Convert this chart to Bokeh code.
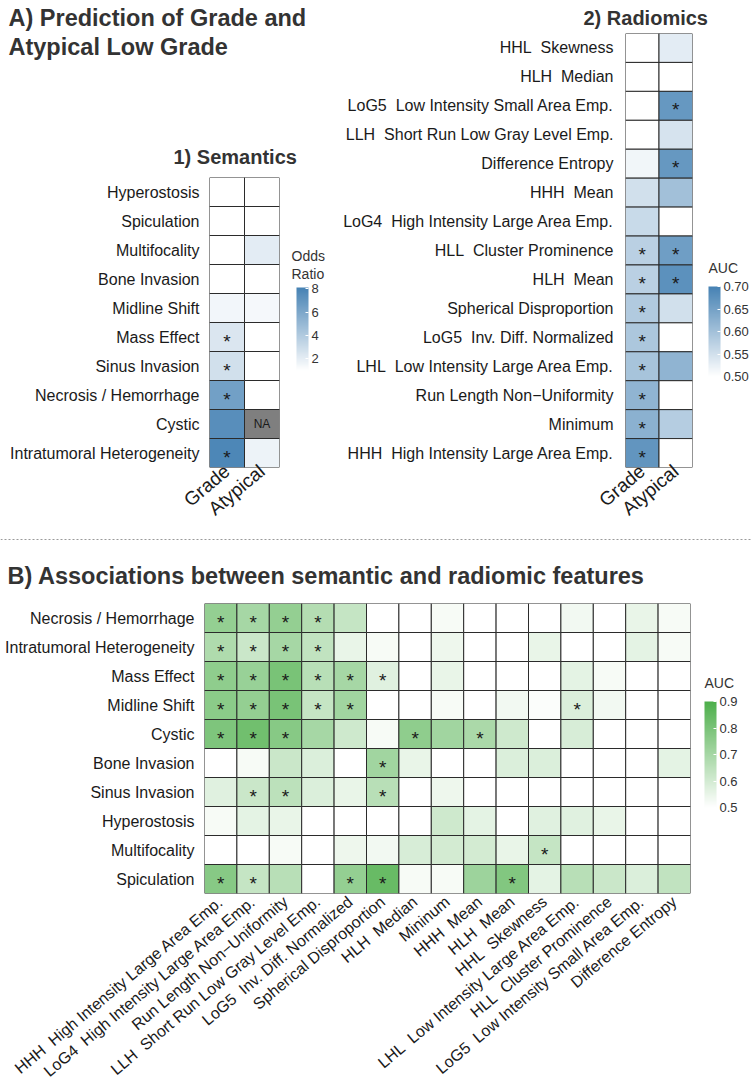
import math
from bokeh.plotting import figure
from bokeh.models import (ColumnDataSource, LinearColorMapper, ColorBar, FixedTicker,
                          PrintfTickFormatter, Title, Span, FactorRange, Range1d)
from bokeh.layouts import column, row
from bokeh.embed import file_html
from bokeh.resources import INLINE
from bokeh.core.properties import value

FONT = "Liberation Sans"
TXT = "#1a1a1a"
HEAD = "#333333"
SP2 = "\u00a0 "  # double space as in the original labels

# ---------------- data ----------------
targets = ["Grade", "Atypical"]

sem_features = ["Hyperostosis", "Spiculation", "Multifocality", "Bone Invasion",
                "Midline Shift", "Mass Effect", "Sinus Invasion",
                "Necrosis / Hemorrhage", "Cystic", "Intratumoral Heterogeneity"]
sem_or_grade = [1.0, 1.0, 1.0, 1.0, 1.5, 2.4, 2.8, 6.4, 7.4, 7.8]
sem_or_atypical = [1.0, 1.0, 2.1, 1.0, 1.4, 1.0, 1.0, 1.0, float("nan"), 1.7]
sem_sig_grade = [0, 0, 0, 0, 0, 1, 1, 1, 0, 1]
sem_sig_atypical = [0, 0, 0, 0, 0, 0, 0, 0, 0, 0]

rad_features = ["HHL" + SP2 + "Skewness", "HLH" + SP2 + "Median",
                "LoG5" + SP2 + "Low Intensity Small Area Emp.",
                "LLH" + SP2 + "Short Run Low Gray Level Emp.", "Difference Entropy",
                "HHH" + SP2 + "Mean", "LoG4" + SP2 + "High Intensity Large Area Emp.",
                "HLL" + SP2 + "Cluster Prominence", "HLH" + SP2 + "Mean",
                "Spherical Disproportion", "LoG5" + SP2 + "Inv. Diff. Normalized",
                "LHL" + SP2 + "Low Intensity Large Area Emp.",
                "Run Length Non\u2212Uniformity", "Minimum",
                "HHH" + SP2 + "High Intensity Large Area Emp."]
rad_auc_grade = [0.50, 0.50, 0.50, 0.50, 0.515, 0.55, 0.56, 0.575, 0.575, 0.585,
                 0.59, 0.595, 0.62, 0.625, 0.67]
rad_auc_atypical = [0.53, 0.50, 0.665, 0.545, 0.665, 0.60, 0.50, 0.655, 0.675, 0.55,
                    0.50, 0.62, 0.50, 0.58, 0.50]
rad_sig_grade = [0, 0, 0, 0, 0, 0, 0, 1, 1, 1, 1, 1, 1, 1, 1]
rad_sig_atypical = [0, 0, 1, 0, 1, 0, 0, 1, 1, 0, 0, 0, 0, 0, 0]

assoc_rows = ["Necrosis / Hemorrhage", "Intratumoral Heterogeneity", "Mass Effect",
              "Midline Shift", "Cystic", "Bone Invasion", "Sinus Invasion",
              "Hyperostosis", "Multifocality", "Spiculation"]
assoc_cols = ["HHH" + SP2 + "High Intensity Large Area Emp.",
              "LoG4" + SP2 + "High Intensity Large Area Emp.",
              "Run Length Non\u2212Uniformity",
              "LLH" + SP2 + "Short Run Low Gray Level Emp.",
              "LoG5" + SP2 + "Inv. Diff. Normalized", "Spherical Disproportion",
              "HLH" + SP2 + "Median", "Mininum", "HHH" + SP2 + "Mean",
              "HLH" + SP2 + "Mean", "HHL" + SP2 + "Skewness",
              "LHL" + SP2 + "Low Intensity Large Area Emp.",
              "HLL" + SP2 + "Cluster Prominence",
              "LoG5" + SP2 + "Low Intensity Small Area Emp.", "Difference Entropy"]
assoc_auc = [
    [0.74, 0.70, 0.74, 0.67, 0.63, 0.50, 0.50, 0.52, 0.50, 0.50, 0.50, 0.53, 0.50, 0.55, 0.52],
    [0.68, 0.62, 0.70, 0.64, 0.55, 0.52, 0.50, 0.54, 0.50, 0.50, 0.55, 0.50, 0.50, 0.56, 0.52],
    [0.75, 0.73, 0.80, 0.66, 0.70, 0.57, 0.50, 0.55, 0.50, 0.50, 0.50, 0.56, 0.52, 0.50, 0.50],
    [0.76, 0.74, 0.80, 0.63, 0.71, 0.50, 0.50, 0.52, 0.50, 0.53, 0.51, 0.58, 0.53, 0.50, 0.50],
    [0.79, 0.82, 0.77, 0.70, 0.61, 0.52, 0.75, 0.71, 0.69, 0.61, 0.50, 0.59, 0.50, 0.50, 0.50],
    [0.50, 0.52, 0.62, 0.58, 0.50, 0.71, 0.55, 0.50, 0.50, 0.58, 0.58, 0.50, 0.50, 0.50, 0.56],
    [0.57, 0.62, 0.65, 0.58, 0.55, 0.66, 0.50, 0.54, 0.50, 0.50, 0.50, 0.50, 0.50, 0.50, 0.50],
    [0.52, 0.56, 0.55, 0.50, 0.50, 0.50, 0.50, 0.61, 0.56, 0.50, 0.57, 0.57, 0.55, 0.50, 0.50],
    [0.50, 0.50, 0.52, 0.50, 0.54, 0.53, 0.59, 0.60, 0.60, 0.55, 0.63, 0.50, 0.50, 0.50, 0.50],
    [0.77, 0.63, 0.66, 0.50, 0.74, 0.84, 0.52, 0.52, 0.72, 0.78, 0.56, 0.66, 0.62, 0.58, 0.64],
]
assoc_sig = [
    [1, 1, 1, 1, 0, 0, 0, 0, 0, 0, 0, 0, 0, 0, 0],
    [1, 1, 1, 1, 0, 0, 0, 0, 0, 0, 0, 0, 0, 0, 0],
    [1, 1, 1, 1, 1, 1, 0, 0, 0, 0, 0, 0, 0, 0, 0],
    [1, 1, 1, 1, 1, 0, 0, 0, 0, 0, 0, 1, 0, 0, 0],
    [1, 1, 1, 0, 0, 0, 1, 0, 1, 0, 0, 0, 0, 0, 0],
    [0, 0, 0, 0, 0, 1, 0, 0, 0, 0, 0, 0, 0, 0, 0],
    [0, 1, 1, 0, 0, 1, 0, 0, 0, 0, 0, 0, 0, 0, 0],
    [0, 0, 0, 0, 0, 0, 0, 0, 0, 0, 0, 0, 0, 0, 0],
    [0, 0, 0, 0, 0, 0, 0, 0, 0, 0, 1, 0, 0, 0, 0],
    [1, 1, 0, 0, 1, 1, 0, 0, 0, 1, 0, 0, 0, 0, 0],
]

or_ticks = [2, 4, 6, 8]
rad_ticks = [0.50, 0.55, 0.60, 0.65, 0.70]
assoc_ticks = [0.5, 0.6, 0.7, 0.8, 0.9]


# ---------------- helpers ----------------
def ramp(hi, n=256):
    r2, g2, b2 = int(hi[1:3], 16), int(hi[3:5], 16), int(hi[5:7], 16)
    out = []
    for i in range(n):
        t = i / (n - 1)
        out.append("#%02x%02x%02x" % (round(255 + (r2 - 255) * t),
                                      round(255 + (g2 - 255) * t),
                                      round(255 + (b2 - 255) * t)))
    return out


def long_two(features, cols_vals, cols_sig):
    xs, ys, vs, stars, nas = [], [], [], [], []
    for t, vals, sigs in zip(targets, cols_vals, cols_sig):
        for f, v, s in zip(features, vals, sigs):
            xs.append(t)
            ys.append(f)
            vs.append(v)
            stars.append("*" if s else "")
            nas.append("NA" if v != v else "")
    return ColumnDataSource(dict(x=xs, y=ys, v=vs, star=stars, na=nas))


def style_axis(ax, size, stand, angle=None):
    ax.axis_line_color = None
    ax.major_tick_line_color = None
    ax.minor_tick_line_color = None
    ax.major_tick_in = 0
    ax.major_tick_out = 0
    ax.major_label_text_font = FONT
    ax.major_label_text_color = TXT
    ax.major_label_text_font_size = size
    ax.major_label_standoff = stand
    if angle is not None:
        ax.major_label_orientation = angle


def base_style(p):
    p.frame_align = False
    p.outline_line_color = None
    p.grid.grid_line_color = None
    p.background_fill_color = "white"
    p.border_fill_color = "white"


def cells(p, src, mapper, star_size="19px"):
    p.rect(x="x", y="y", width=1, height=1, source=src,
           fill_color={"field": "v", "transform": mapper},
           line_color="#2b2b2b", line_width=1)
    p.text(x="x", y="y", text="star", source=src, text_align="center",
           text_baseline="middle", text_font=value(FONT), text_font_size=star_size,
           text_color=TXT, y_offset=4)


def colorbar(p, mapper, ticks, fmt, h, loc, title, tloc):
    p.add_layout(ColorBar(color_mapper=mapper, ticker=FixedTicker(ticks=ticks),
                          formatter=PrintfTickFormatter(format=fmt),
                          orientation="vertical",
                          width=12, height=h, location=loc, padding=0, margin=0,
                          major_label_text_font=FONT, major_label_text_font_size="13px",
                          major_label_text_color=HEAD, label_standoff=3,
                          major_tick_line_color="white", major_tick_in=3,
                          major_tick_out=0, minor_tick_line_color=None,
                          bar_line_color=None, background_fill_color=None,
                          border_line_color=None))
    # legend title: a horizontal colour bar whose (invisible) bar carries a flat title
    p.add_layout(ColorBar(color_mapper=mapper, ticker=FixedTicker(ticks=[]),
                          orientation="horizontal", width=30, height=1,
                          scale_alpha=0, location=tloc, padding=0, margin=0,
                          title=title, title_text_font=FONT, title_text_font_size="14px",
                          title_text_font_style="normal", title_text_color=HEAD,
                          title_text_line_height=1.15, title_standoff=0,
                          major_label_text_font_size="1px", label_standoff=0,
                          major_tick_line_color=None, minor_tick_line_color=None,
                          bar_line_color=None, background_fill_color=None,
                          border_line_color=None))


def title(text, size, offset, standoff):
    return Title(text=text, align="left", offset=offset, text_font=FONT,
                 text_font_size=size, text_font_style="bold", text_color=HEAD,
                 standoff=standoff)


ANG = math.radians(40)
blue = "#4682B4"
green = "#4DAF4A"

# ---------------- A1) semantics ----------------
or_mapper = LinearColorMapper(palette=ramp(blue), low=1.0, high=8.1,
                              nan_color="#7F7F7F")
p_sem = figure(width=340, height=532, x_range=FactorRange(factors=targets),
               y_range=FactorRange(factors=list(reversed(sem_features))),
               min_border_left=209, min_border_right=61, min_border_top=177,
               min_border_bottom=65, output_backend="svg", toolbar_location=None)
base_style(p_sem)
src_sem = long_two(sem_features, [sem_or_grade, sem_or_atypical],
                   [sem_sig_grade, sem_sig_atypical])
cells(p_sem, src_sem, or_mapper)
p_sem.text(x="x", y="y", text="na", source=src_sem, text_align="center",
           text_baseline="middle", text_font=value(FONT), text_font_size="12px",
           text_color=TXT)
style_axis(p_sem.yaxis[0], "16px", 10)
style_axis(p_sem.xaxis[0], "19px", 1, ANG)
colorbar(p_sem, or_mapper, or_ticks, "%d", 83, (87, 97), "Odds\nRatio", (82, 184))
# titles stack outward from the frame
p_sem.add_layout(title("1) Semantics", "20px", -36, 20), "above")
p_sem.add_layout(Title(text=" ", text_font_size="1px", standoff=70), "above")
p_sem.add_layout(title("Atypical Low Grade", "23.5px", -201, 2), "above")
p_sem.add_layout(title("A) Prediction of Grade and", "23.5px", -201, 0), "above")

# ---------------- A2) radiomics ----------------
rad_mapper = LinearColorMapper(palette=ramp(blue), low=0.5, high=0.7)
p_rad = figure(width=411, height=532, x_range=FactorRange(factors=targets),
               y_range=FactorRange(factors=list(reversed(rad_features))),
               min_border_left=282, min_border_right=59, min_border_top=32,
               min_border_bottom=65, output_backend="svg", toolbar_location=None)
base_style(p_rad)
src_rad = long_two(rad_features, [rad_auc_grade, rad_auc_atypical],
                   [rad_sig_grade, rad_sig_atypical])
cells(p_rad, src_rad, rad_mapper)
style_axis(p_rad.yaxis[0], "16px", 12)
style_axis(p_rad.xaxis[0], "19px", 1, ANG)
colorbar(p_rad, rad_mapper, rad_ticks, "%.2f", 90, (83, 91), "AUC", (83, 191))
p_rad.add_layout(title("2) Radiomics", "20px", -42, 9), "above")

# ---------------- separator ----------------
p_sep = figure(width=751, height=14, x_range=Range1d(0, 1), y_range=Range1d(0, 1),
               min_border=0, x_axis_type=None, y_axis_type=None,
               output_backend="svg", toolbar_location=None)
p_sep.frame_align = False
p_sep.outline_line_color = None
p_sep.grid.grid_line_color = None
p_sep.add_layout(Span(location=0.5, dimension="width", line_color="#9a9a9a",
                      line_width=1, line_dash="2 2"))

# ---------------- B) associations ----------------
assoc_mapper = LinearColorMapper(palette=ramp(green), low=0.5, high=0.9)
xs, ys, vs, st = [], [], [], []
for r, vals, sigs in zip(assoc_rows, assoc_auc, assoc_sig):
    for c, v, s in zip(assoc_cols, vals, sigs):
        xs.append(c)
        ys.append(r)
        vs.append(v)
        st.append("*" if s else "")
src_b = ColumnDataSource(dict(x=xs, y=ys, v=vs, star=st))
p_b = figure(width=751, height=543, x_range=FactorRange(factors=assoc_cols),
             y_range=FactorRange(factors=list(reversed(assoc_rows))),
             min_border_left=204, min_border_right=61, min_border_top=56,
             min_border_bottom=193, output_backend="svg", toolbar_location=None)
base_style(p_b)
cells(p_b, src_b, assoc_mapper)
style_axis(p_b.yaxis[0], "16px", 10)
style_axis(p_b.xaxis[0], "16px", 6, ANG)
colorbar(p_b, assoc_mapper, assoc_ticks, "%.1f", 106, (500, 86), "AUC", (500, 202))
p_b.add_layout(title("B) Associations between semantic and radiomic features",
                     "23.5px", -197, 29), "above")

layout = column(row(p_sem, p_rad, spacing=0), p_sep, p_b, spacing=0)
open("out.html", "w").write(file_html(layout, INLINE))
